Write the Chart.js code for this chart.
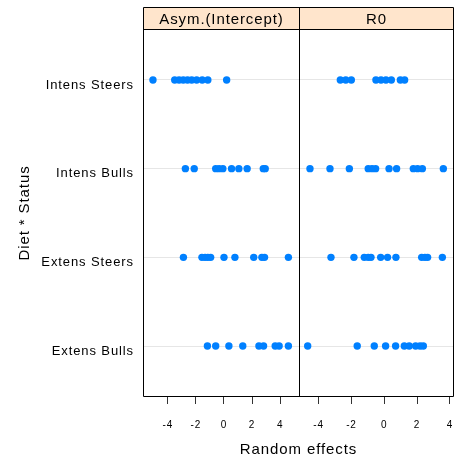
<!DOCTYPE html>
<html><head><meta charset="utf-8">
<script src="https://cdn.jsdelivr.net/npm/chart.js@4/dist/chart.umd.min.js"></script>
<style>html,body{margin:0;padding:0;background:#fff;} canvas{display:block;}</style>
</head><body>
<canvas id="c" width="458" height="461"></canvas>
<script>
// ---- data ----
const categories = ['Extens Bulls', 'Extens Steers', 'Intens Bulls', 'Intens Steers'];
const panels = ['Asym.(Intercept)', 'R0'];
const xTicks = [-4, -2, 0, 2, 4];
const asymLimits = [-5.77, 5.31];
const r0Limits = [-5.23, 4.25];

const asymExtensBulls   = [-1.18, -0.59, 0.35, 1.34, 2.49, 2.82, 3.65, 3.93, 4.59];
const asymExtensSteers  = [-2.89, -1.57, -1.35, -1.15, -0.95, 0.0, 0.78, 2.12, 2.70, 2.89, 4.59];
const asymIntensBulls   = [-2.75, -2.12, -0.59, -0.35, -0.08, 0.54, 1.06, 1.65, 2.80, 2.94];
const asymIntensSteers  = [-5.06, -3.51, -3.2, -2.9, -2.6, -2.3, -1.95, -1.55, -1.15, 0.19];

const r0ExtensBulls     = [-4.67, -1.65, -0.61, 0.08, 0.69, 1.22, 1.52, 1.91, 2.18, 2.38];
const r0ExtensSteers    = [-3.25, -1.85, -1.22, -0.98, -0.81, -0.22, 0.20, 0.71, 2.28, 2.48, 2.64, 3.54];
const r0IntensBulls     = [-4.53, -3.31, -2.13, -0.98, -0.75, -0.53, 0.29, 0.75, 1.77, 2.03, 2.32, 3.60];
const r0IntensSteers    = [-2.68, -2.35, -2.01, -0.51, -0.2, 0.1, 0.43, 0.98, 1.24];

// ---- build ----
const FONT = '"Liberation Sans", Arial, Helvetica, sans-serif';
function pts(vals, cat) { const y = categories.indexOf(cat) + 1; return vals.map(v => ({x: v, y: y})); }

const asymData = [].concat(
  pts(asymExtensBulls, 'Extens Bulls'), pts(asymExtensSteers, 'Extens Steers'),
  pts(asymIntensBulls, 'Intens Bulls'), pts(asymIntensSteers, 'Intens Steers'));
const r0Data = [].concat(
  pts(r0ExtensBulls, 'Extens Bulls'), pts(r0ExtensSteers, 'Extens Steers'),
  pts(r0IntensBulls, 'Intens Bulls'), pts(r0IntensSteers, 'Intens Steers'));

const pointStyle = { pointRadius: 3.7, pointBackgroundColor: '#0080ff', pointBorderWidth: 0, showLine: false };

function xScale(lim) {
  return {
    type: 'linear', position: 'bottom', stack: 'panels', stackWeight: 1,
    min: lim[0], max: lim[1],
    afterBuildTicks: s => { s.ticks = xTicks.map(v => ({value: v})); },
    afterFit: s => { s.height = 64; s.paddingLeft = 0; s.paddingRight = 0; },
    grid: { display: true, drawOnChartArea: false, drawTicks: true, tickLength: 7, tickColor: '#333', tickWidth: 1 },
    border: { display: false },
    ticks: { color: '#000', font: { family: FONT, size: 10 }, padding: 15, maxRotation: 0, autoSkip: false }
  };
}

const panelPlugin = {
  id: 'panels',
  beforeDraw(chart) {
    const ctx = chart.ctx;
    ctx.save(); ctx.fillStyle = '#fff'; ctx.fillRect(0, 0, chart.width, chart.height); ctx.restore();
    ctx.letterSpacing = '0.9px';
  },
  afterDraw(chart) {
    const {ctx, chartArea: a, scales} = chart;
    ctx.save();
    ctx.letterSpacing = '0.9px';
    ctx.strokeStyle = '#000'; ctx.lineWidth = 1;
    const L = Math.round(a.left) + 0.5, R = Math.round(a.right) - 0.5;
    const T = Math.round(a.top) + 0.5, B = Math.round(a.bottom) - 0.5;
    const D = Math.round(scales.x1.right) + 0.5;
    const ST = T - 22;
    // strips
    ctx.fillStyle = '#ffe5cc';
    ctx.fillRect(L, ST, R - L, T - ST);
    ctx.beginPath();
    ctx.rect(L, ST, R - L, B - ST);
    ctx.moveTo(D, ST); ctx.lineTo(D, B);
    ctx.moveTo(L, T); ctx.lineTo(R, T);
    ctx.stroke();
    ctx.fillStyle = '#000';
    ctx.font = '15px ' + FONT;
    ctx.textAlign = 'center'; ctx.textBaseline = 'middle';
    ctx.fillText(panels[0], (L + D) / 2, (ST + T) / 2 + 1);
    ctx.fillText(panels[1], (D + R) / 2, (ST + T) / 2 + 1);
    // x title
    ctx.fillText('Random effects', (L + R) / 2, 450);
    ctx.restore();
  }
};

new Chart(document.getElementById('c'), {
  type: 'scatter',
  data: { datasets: [
    Object.assign({ label: panels[0], xAxisID: 'x1', data: asymData }, pointStyle),
    Object.assign({ label: panels[1], xAxisID: 'x2', data: r0Data }, pointStyle)
  ]},
  options: {
    responsive: false, animation: false, events: [],
    layout: { padding: { left: 0, right: 2, top: 29, bottom: 0 } },
    plugins: { legend: { display: false }, tooltip: { enabled: false } },
    scales: {
      x1: xScale(asymLimits),
      x2: xScale(r0Limits),
      y: {
        type: 'linear', position: 'left', min: 0.425, max: 4.575,
        afterBuildTicks: s => { s.ticks = categories.map((c, i) => ({value: i + 1})); },
        afterFit: s => { s.width = 143; s.paddingTop = 0; s.paddingBottom = 0; },
        grid: { color: '#e6e6e6', drawTicks: false, lineWidth: 1 },
        border: { display: false },
        ticks: { color: '#000', font: { family: FONT, size: 13 }, padding: 9, labelOffset: 5,
                 callback: v => categories[Math.round(v) - 1] },
        title: { display: true, text: 'Diet * Status', color: '#000', font: { family: FONT, size: 15 }, padding: { top: 16 } }
      }
    }
  },
  plugins: [panelPlugin]
});
</script>
</body></html>
